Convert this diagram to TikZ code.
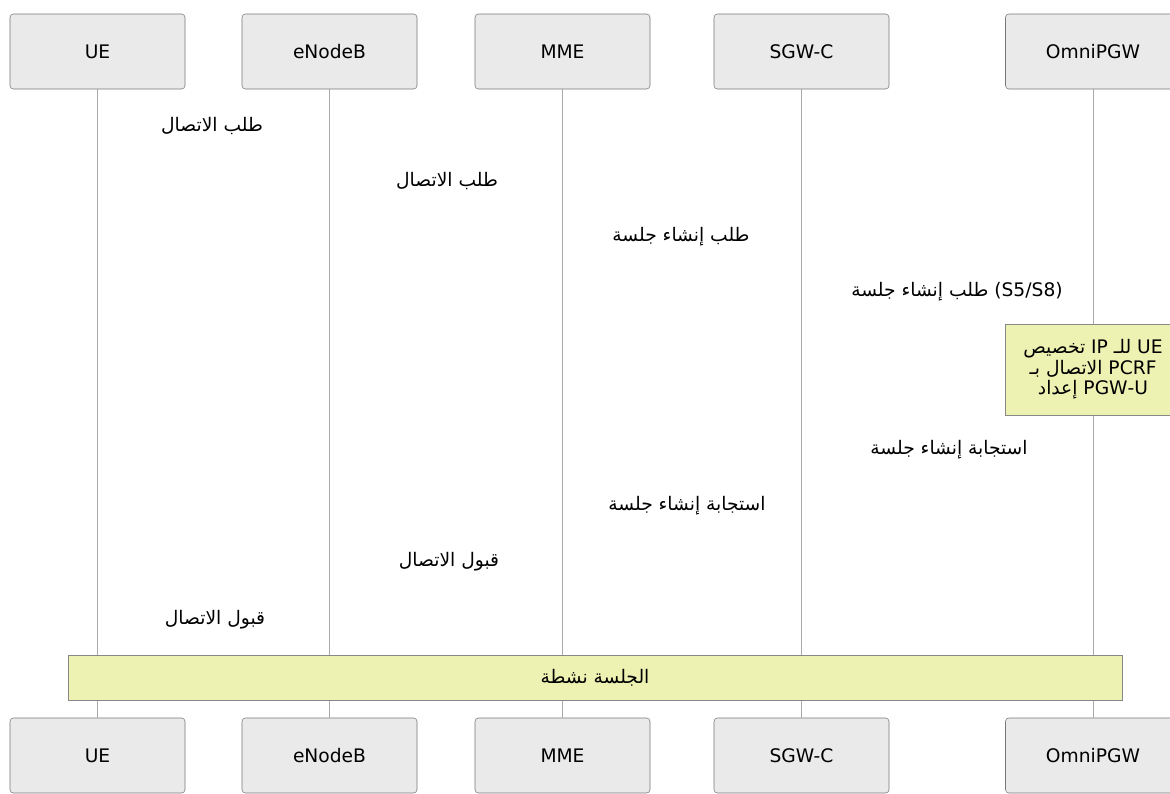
\documentclass[tikz,border=0pt]{standalone}
\usepackage{fontspec}
\setmainfont{DejaVu Sans}
\newfontfamily\arabicfont[Script=Arabic]{DejaVu Sans}
\TeXXeTstate=1

\definecolor{actorfill}{HTML}{EAEAEA}
\definecolor{actordraw}{HTML}{777777}
\definecolor{notefill}{HTML}{EDF1B1}
\definecolor{notedraw}{HTML}{888888}
\definecolor{lifeline}{HTML}{AAAAAA}

\tikzset{
  actor/.style={draw=actordraw, fill=actorfill, rounded corners=2.5pt,
    minimum width=131.25pt, minimum height=56.25pt, inner sep=0pt},
  msg/.style={font=\fontsize{14}{15.4}\selectfont\arabicfont, inner sep=1pt},
  notebox/.style={draw=notedraw, fill=notefill, align=center,
    font=\fontsize{14}{15.4}\selectfont\arabicfont,
    minimum width=132pt, minimum height=68pt, inner sep=0pt}
}

\begin{document}
\begin{tikzpicture}[x=0.75pt, y=-0.75pt, font=\fontsize{14}{15.4}\selectfont]
  \useasboundingbox (0,0) rectangle (1170,793);
  % actors (top)
  \node[actor] (ue)   at (97.5,51.5)  {UE};
  \node[actor] (enb)  at (329.5,51.5) {eNodeB};
  \node[actor] (mme)  at (562.5,51.5) {MME};
  \node[actor] (sgw)  at (801.5,51.5) {SGW-C};
  \node[actor] (pgw)  at (1093,51.5)  {OmniPGW};
  % actors (bottom)
  \node[actor] (ueB)  at (97.5,755.5)  {UE};
  \node[actor] (enbB) at (329.5,755.5) {eNodeB};
  \node[actor] (mmeB) at (562.5,755.5) {MME};
  \node[actor] (sgwB) at (801.5,755.5) {SGW-C};
  \node[actor] (pgwB) at (1093,755.5)  {OmniPGW};
  % lifelines
  \foreach \a in {ue,enb,mme,sgw,pgw}
    \draw[lifeline, line width=0.75pt] (\a.south) -- (\a B.north);
  % messages
  \node[msg] (m1)  at (212,126) {\beginR طلب الاتصال\endR};
  \node[msg] (m2)  at (447,181) {\beginR طلب الاتصال\endR};
  \node[msg] (m3)  at (681,237) {\beginR طلب إنشاء جلسة\endR};
  \node[msg] (m4)  at (957,292) {\beginR طلب إنشاء جلسة\endR{} (S5/S8)};
  \node[notebox] (n1) at (1093,369.5) {\beginR UE للـ IP تخصيص\endR\\
    \beginR PCRF الاتصال بـ\endR\\ \beginR PGW-U إعداد\endR};
  \node[msg] (m5)  at (949,450) {\beginR استجابة إنشاء جلسة\endR};
  \node[msg] (m6)  at (687,506) {\beginR استجابة إنشاء جلسة\endR};
  \node[msg] (m7)  at (449,562) {\beginR قبول الاتصال\endR};
  \node[msg] (m8)  at (215,620) {\beginR قبول الاتصال\endR};
  % session
  \node[notebox, minimum width=790.5pt, minimum height=33.75pt] (act) at (595,677.5)
    {\beginR الجلسة نشطة\endR};
\end{tikzpicture}
\end{document}
